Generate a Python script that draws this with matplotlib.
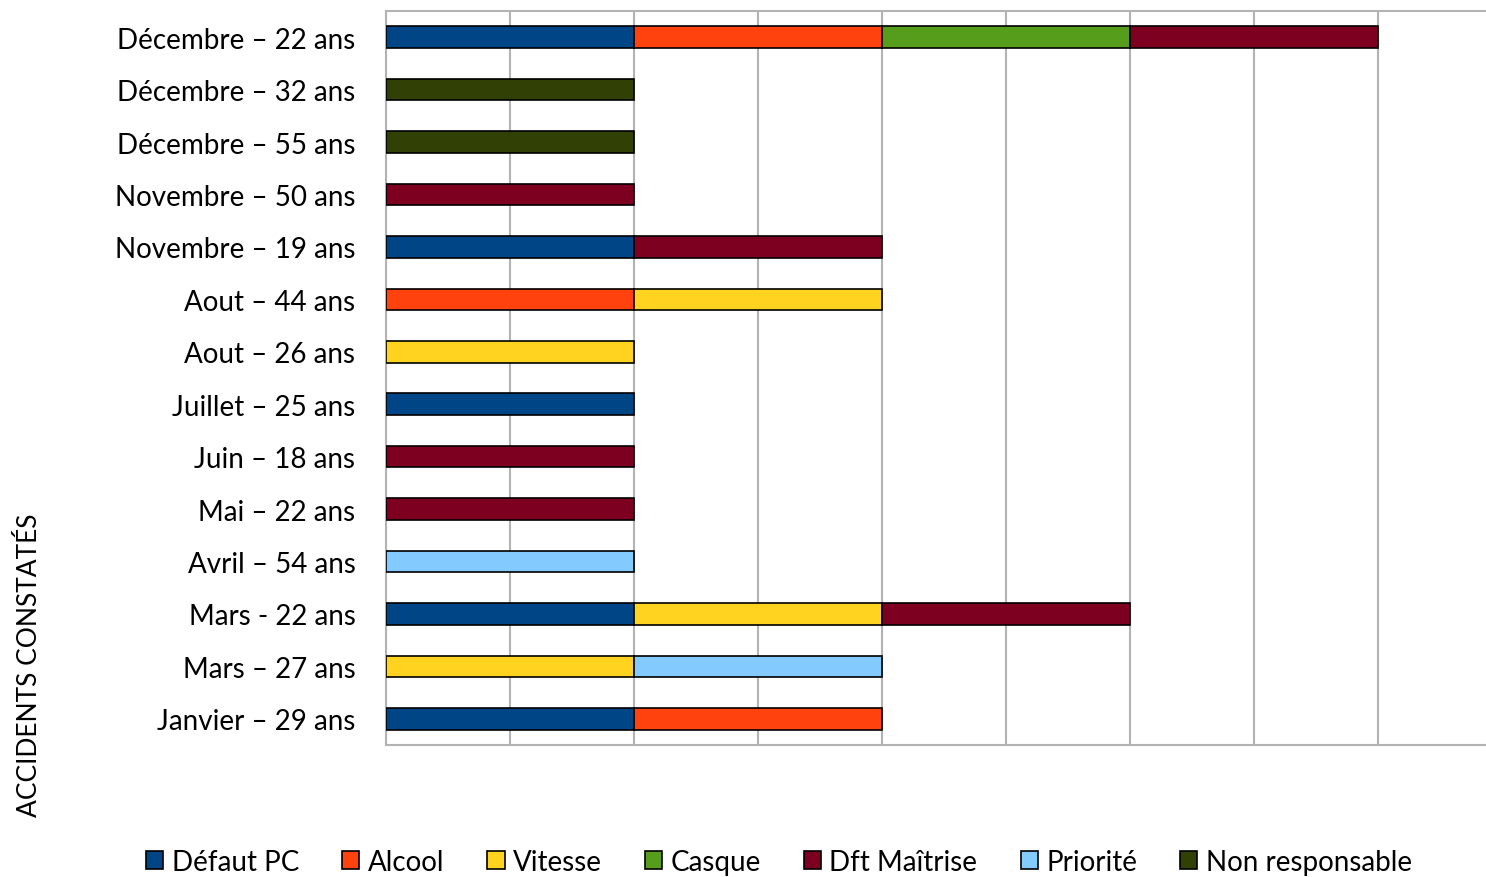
import matplotlib
matplotlib.use("Agg")
import matplotlib.pyplot as plt
from matplotlib.patches import Patch
import numpy as np

plt.rcParams["font.family"] = ["Lato", "DejaVu Sans"]

# categories from bottom to top
categories = [
    "Janvier – 29 ans", "Mars – 27 ans", "Mars - 22 ans", "Avril – 54 ans",
    "Mai – 22 ans", "Juin – 18 ans", "Juillet – 25 ans", "Aout – 26 ans",
    "Aout – 44 ans", "Novembre – 19 ans", "Novembre – 50 ans",
    "Décembre – 55 ans", "Décembre – 32 ans", "Décembre – 22 ans",
]
series = ["Défaut PC", "Alcool", "Vitesse", "Casque", "Dft Maîtrise",
          "Priorité", "Non responsable"]
colors = ["#004586", "#FF420E", "#FFD320", "#579D1C", "#7E0021",
          "#83CAFF", "#314004"]

defaut_pc = [1, 0, 1, 0, 0, 0, 1, 0, 0, 1, 0, 0, 0, 1]
alcool    = [1, 0, 0, 0, 0, 0, 0, 0, 1, 0, 0, 0, 0, 1]
vitesse   = [0, 1, 1, 0, 0, 0, 0, 1, 1, 0, 0, 0, 0, 0]
casque    = [0, 0, 0, 0, 0, 0, 0, 0, 0, 0, 0, 0, 0, 1]
dft_maitr = [0, 0, 1, 0, 1, 1, 0, 0, 0, 1, 1, 0, 0, 1]
priorite  = [0, 1, 0, 1, 0, 0, 0, 0, 0, 0, 0, 0, 0, 0]
non_resp  = [0, 0, 0, 0, 0, 0, 0, 0, 0, 0, 0, 1, 1, 0]
values = [defaut_pc, alcool, vitesse, casque, dft_maitr, priorite, non_resp]

fig = plt.figure(figsize=(14.86, 8.78), dpi=100)
ax = fig.add_axes([386 / 1486, 1 - 746 / 878, 1100 / 1486, 734 / 878])

y = np.arange(len(categories))
left = np.zeros(len(categories))
for name, vals, col in zip(series, values, colors):
    vals = np.array(vals, dtype=float)
    mask = vals > 0
    ax.barh(y[mask], vals[mask], left=left[mask], height=0.41, color=col,
            edgecolor="black", linewidth=1.2, zorder=3)
    left += vals

ax.set_xlim(0, 1100 / 248)
ax.set_ylim(-0.5, len(categories) - 0.5)
ax.set_xticks(np.arange(0, 4.5, 0.5))
ax.set_xticklabels([])
ax.tick_params(axis="x", length=0)
ax.tick_params(axis="y", length=0, pad=22)
ax.set_yticks(y)
ax.set_yticklabels(categories, fontsize=20)
ax.grid(axis="x", color="#b3b3b3", linewidth=1.5, zorder=0)
for s in ["left", "top", "bottom"]:
    ax.spines[s].set_color("#b3b3b3")
    ax.spines[s].set_linewidth(1.5)
ax.spines["right"].set_visible(False)

fig.text(30 / 1486, 1 - 665 / 878, "ACCIDENTS CONSTATÉS", rotation=90,
         ha="center", va="center", fontsize=19)

handles = [Patch(facecolor=c, edgecolor="black", linewidth=1.2) for c in colors]
fig.legend(handles, series, loc="center", bbox_to_anchor=(779 / 1486, 1 - 863 / 878),
           ncol=7, frameon=False, fontsize=20, handlelength=0.62, handleheight=0.62,
           handletextpad=0.3, columnspacing=1.55)

fig.savefig("out.png", dpi=100)
